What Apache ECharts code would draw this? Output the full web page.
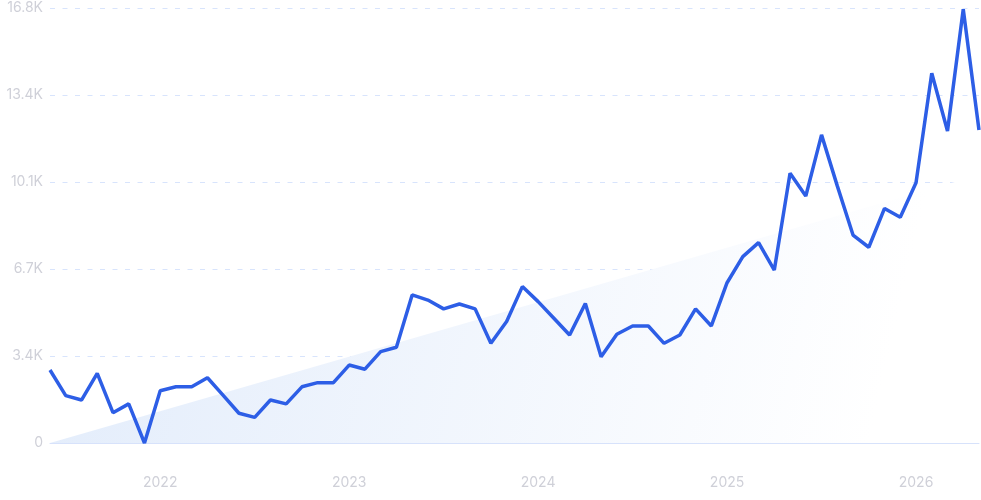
<!DOCTYPE html>
<html>
<head>
<meta charset="utf-8">
<script src="https://cdn.jsdelivr.net/npm/echarts@6/dist/echarts.min.js"></script>
<style>
  html, body { margin: 0; padding: 0; background: #fff; }
  #chart { width: 981px; height: 500px; }
</style>
</head>
<body>
<div id="chart"></div>
<script>
// monthly points, Jun 2021 .. May 2026
var startYear = 2021, startMonth = 6, monthCount = 60;
var months = [];
for (var i = 0; i < monthCount; i++) {
  var m = startMonth - 1 + i;
  var y = startYear + Math.floor(m / 12);
  var mm = (m % 12) + 1;
  months.push(y + '-' + (mm < 10 ? '0' + mm : mm));
}

var searchVolume = [
  2820, 1830, 1660, 2690, 1170, 1510, 0, 2020, 2170, 2170,
  2520, 1840, 1150, 990, 1660, 1510, 2170, 2330, 2330, 3010,
  2850, 3530, 3700, 5720, 5520, 5180, 5370, 5180, 3850, 4690,
  6040, 5460, 4820, 4170, 5390, 3330, 4200, 4520, 4520, 3850,
  4170, 5180, 4520, 6190, 7200, 7740, 6680, 10420, 9540, 11900,
  9930, 8030, 7560, 9060, 8720, 10050, 14280, 12050, 16750, 12090
];

// trend band: start and end of the shaded wedge
var trendStart = [months[0], 0];
var trendEnd = [months[monthCount - 1], 10350];

var yMax = 16800, yStep = 3360;

var myChart = echarts.init(document.getElementById('chart'));
var option = {
  animation: false,
  grid: { left: 50, right: 2, top: 8, bottom: 57 },
  xAxis: {
    type: 'category',
    data: months,
    boundaryGap: false,
    axisLine: { show: true, lineStyle: { color: '#d7e2fb', width: 1 } },
    axisTick: { show: false },
    axisLabel: {
      margin: 33,
      color: '#cfd0d8',
      fontSize: 14,
      fontFamily: 'Inter',
      interval: function (idx, val) { return val.slice(5) === '01'; },
      formatter: function (val) { return val.slice(0, 4); }
    },
    splitLine: { show: false }
  },
  yAxis: {
    type: 'value',
    min: 0,
    max: yMax,
    interval: yStep,
    axisLine: { show: false },
    axisTick: { show: false },
    axisLabel: {
      margin: 7,
      color: '#cfd0d8',
      fontSize: 14,
      fontFamily: 'Inter',
      formatter: function (v) { return v === 0 ? '0' : (v / 1000).toFixed(1) + 'K'; }
    },
    splitLine: {
      show: true,
      lineStyle: { color: '#d8e4fc', type: [5, 7.5], width: 1 }
    }
  },
  series: [
    {
      name: 'trend',
      type: 'line',
      data: [trendStart, trendEnd],
      symbol: 'none',
      silent: true,
      lineStyle: { width: 0 },
      areaStyle: {
        opacity: 1,
        color: {
          type: 'linear', x: 0, y: 0, x2: 1, y2: 0.8,
          colorStops: [
            { offset: 0, color: '#e2ecfb' },
            { offset: 0.9, color: '#ffffff' },
            { offset: 1, color: '#ffffff' }
          ]
        }
      },
      z: 1
    },
    {
      name: 'volume',
      type: 'line',
      data: searchVolume,
      symbol: 'none',
      lineStyle: { color: '#2d5ee6', width: 3.5 },
      z: 3
    }
  ]
};
myChart.setOption(option);
</script>
</body>
</html>
